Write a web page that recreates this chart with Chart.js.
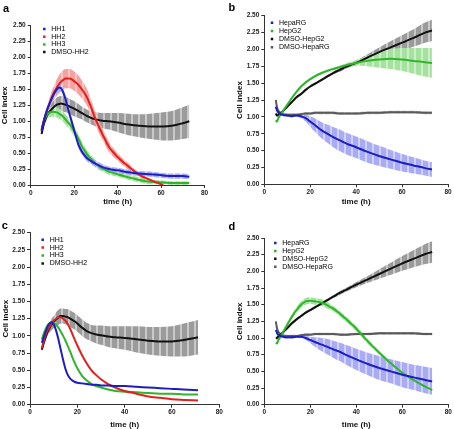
<!DOCTYPE html>
<html><head><meta charset="utf-8">
<script src="https://cdn.jsdelivr.net/npm/chart.js@4.4.1/dist/chart.umd.min.js"></script>
<style>
html,body{margin:0;padding:0;background:#fff}
body{width:454px;height:429px;position:relative;overflow:hidden;font-family:'Liberation Sans',Arial,sans-serif}
canvas{position:absolute}
.lab{position:absolute;font-weight:bold;font-size:11px;line-height:11px;color:#000}
</style></head><body>
<canvas id="ca" width="227" height="214" style="left:0;top:0"></canvas>
<canvas id="cb" width="227" height="214" style="left:227px;top:0"></canvas>
<canvas id="cc" width="227" height="215" style="left:0;top:214px"></canvas>
<canvas id="cd" width="227" height="215" style="left:227px;top:214px"></canvas>
<div class="lab" style="left:3px;top:2.7px">a</div>
<div class="lab" style="left:228.5px;top:2.4px">b</div>
<div class="lab" style="left:1.7px;top:219.7px">c</div>
<div class="lab" style="left:228.5px;top:221.4px">d</div>
<script>
// ---------- data ----------
const xTicks = [0, 20, 40, 60, 80];
const yTicks = [0, 0.25, 0.5, 0.75, 1, 1.25, 1.5, 1.75, 2, 2.25, 2.5];

// panel a
const timeA   = [5,6,7,8,10,12,13,14,15,16,17,18,20,22,24,26,28,30,33,36,40,45,50,55,61,65,70,73];
const hh1A    = [0.85,1.00,1.12,1.22,1.38,1.50,1.53,1.52,1.45,1.35,1.22,1.10,0.86,0.63,0.50,0.42,0.37,0.33,0.28,0.25,0.23,0.20,0.18,0.17,0.15,0.14,0.14,0.13];
const hh1ASd  = [0.03,0.04,0.05,0.05,0.06,0.06,0.06,0.06,0.06,0.06,0.06,0.06,0.05,0.05,0.05,0.05,0.05,0.05,0.05,0.04,0.04,0.04,0.04,0.04,0.04,0.04,0.04,0.04];
const hh2A    = [0.85,1.00,1.12,1.22,1.40,1.53,1.58,1.62,1.65,1.67,1.67,1.67,1.63,1.57,1.48,1.37,1.20,1.02,0.80,0.60,0.44,0.29,0.16,0.08,0.00,null,null,null];
const hh2ASd  = [0.03,0.05,0.06,0.08,0.10,0.13,0.14,0.15,0.15,0.15,0.15,0.15,0.15,0.15,0.14,0.13,0.12,0.10,0.09,0.08,0.06,0.05,0.03,0.02,0.01,null,null,null];
const hh3A    = [0.88,1.00,1.07,1.12,1.15,1.14,1.12,1.10,1.07,1.03,0.99,0.95,0.85,0.72,0.58,0.48,0.40,0.33,0.26,0.21,0.17,0.12,0.08,0.05,0.04,0.03,0.03,0.03];
const hh3ASd  = [0.03,0.05,0.06,0.07,0.08,0.08,0.08,0.08,0.08,0.08,0.08,0.08,0.08,0.07,0.07,0.06,0.06,0.06,0.05,0.05,0.04,0.04,0.04,0.04,0.03,0.03,0.03,0.03];
const dmsoA   = [0.80,0.95,1.05,1.12,1.20,1.26,1.27,1.28,1.27,1.26,1.25,1.23,1.20,1.16,1.12,1.08,1.05,1.03,1.01,1.00,0.98,0.95,0.93,0.92,0.92,0.93,0.97,1.00];
const dmsoASd = [0.03,0.04,0.05,0.06,0.10,0.11,0.12,0.12,0.12,0.12,0.12,0.12,0.12,0.11,0.10,0.10,0.10,0.11,0.12,0.13,0.15,0.17,0.18,0.20,0.22,0.23,0.25,0.26];

// panel c
const timeC   = [5,6,7,8,9,10,11,12,13,14,15,16,17,18,19,20,22,24,26,28,30,33,36,40,45,50,55,60,65,71];
const hh1C    = [0.90,1.00,1.10,1.17,1.20,1.17,1.08,0.95,0.80,0.65,0.52,0.43,0.38,0.35,0.33,0.32,0.31,0.30,0.29,0.29,0.28,0.28,0.27,0.27,0.26,0.25,0.24,0.23,0.22,0.21];
const hh2C    = [0.82,0.95,1.05,1.12,1.17,1.22,1.25,1.27,1.27,1.25,1.22,1.17,1.10,1.02,0.94,0.86,0.72,0.60,0.50,0.43,0.37,0.30,0.25,0.20,0.16,0.12,0.10,0.08,0.07,0.06];
const hh3C    = [0.95,1.05,1.13,1.18,1.20,1.19,1.16,1.12,1.06,1.00,0.93,0.85,0.77,0.68,0.60,0.53,0.42,0.35,0.30,0.27,0.25,0.22,0.20,0.19,0.18,0.17,0.16,0.16,0.15,0.15];
const dmsoC   = [0.80,0.92,1.02,1.10,1.16,1.20,1.24,1.27,1.29,1.29,1.28,1.27,1.25,1.23,1.21,1.18,1.12,1.07,1.04,1.02,1.01,0.99,0.98,0.97,0.95,0.93,0.92,0.92,0.94,0.98];
const dmsoCSd = [0.03,0.04,0.05,0.06,0.08,0.09,0.10,0.11,0.11,0.11,0.11,0.12,0.12,0.12,0.12,0.12,0.12,0.12,0.12,0.13,0.14,0.15,0.16,0.17,0.19,0.20,0.21,0.22,0.24,0.25];

// panel b
const timeB    = [5,5.5,6,7,8,10,12,14,16,18,20,22,25,28,30,33,36,40,45,50,55,60,65,70,73];
const hepargB  = [1.15,1.10,1.07,1.04,1.03,1.02,1.01,1.02,1.01,0.98,0.93,0.88,0.80,0.74,0.70,0.65,0.60,0.55,0.48,0.42,0.37,0.32,0.28,0.24,0.22];
const hepargBSd= [0.04,0.03,0.02,0.02,0.02,0.02,0.02,0.02,0.03,0.05,0.08,0.10,0.12,0.14,0.15,0.16,0.16,0.16,0.16,0.15,0.14,0.13,0.12,0.11,0.11];
const hepg2B   = [0.95,0.93,0.97,1.03,1.08,1.18,1.28,1.37,1.45,1.51,1.56,1.60,1.65,1.69,1.71,1.74,1.77,1.80,1.83,1.85,1.86,1.85,1.83,1.81,1.80];
const hepg2BSd = [0.02,0.02,0.02,0.02,0.02,0.02,0.02,0.02,0.02,0.02,0.02,0.02,0.02,0.02,0.02,0.02,0.03,0.04,0.08,0.12,0.15,0.17,0.19,0.21,0.22];
const dmsoG2B  = [1.05,1.02,1.03,1.05,1.08,1.15,1.22,1.29,1.34,1.40,1.45,1.49,1.55,1.61,1.65,1.70,1.75,1.80,1.88,1.96,2.03,2.10,2.17,2.25,2.28];
const dmsoG2BSd= [0.03,0.02,0.02,0.02,0.02,0.02,0.02,0.02,0.02,0.02,0.02,0.02,0.02,0.02,0.02,0.03,0.03,0.04,0.05,0.07,0.09,0.11,0.13,0.15,0.16];
const dmsoRGB  = [1.25,1.15,1.10,1.06,1.04,1.03,1.03,1.03,1.04,1.05,1.05,1.06,1.06,1.06,1.06,1.05,1.05,1.05,1.06,1.06,1.07,1.07,1.07,1.06,1.06];
const dmsoRGBSd= [0.04,0.03,0.02,0.02,0.02,0.02,0.02,0.02,0.02,0.02,0.02,0.02,0.02,0.02,0.02,0.02,0.02,0.02,0.02,0.02,0.02,0.02,0.02,0.02,0.02];

// panel d
const timeD    = [5,5.5,6,7,8,10,12,14,16,18,20,22,25,28,30,33,36,40,45,50,55,60,65,70,73];
const hepargD  = [1.12,1.08,1.05,1.03,1.02,1.01,1.01,1.02,1.02,1.00,0.97,0.94,0.90,0.86,0.83,0.79,0.74,0.68,0.61,0.55,0.50,0.45,0.41,0.37,0.35];
const hepargDSd= [0.04,0.03,0.02,0.02,0.02,0.02,0.02,0.02,0.02,0.03,0.05,0.07,0.10,0.12,0.13,0.14,0.15,0.16,0.17,0.18,0.18,0.19,0.19,0.20,0.20];
const hepg2D   = [0.93,0.92,0.96,1.02,1.08,1.20,1.32,1.42,1.50,1.55,1.56,1.55,1.53,1.48,1.44,1.36,1.27,1.14,0.95,0.78,0.62,0.48,0.37,0.27,0.22];
const hepg2DSd = [0.02,0.02,0.02,0.03,0.03,0.04,0.04,0.05,0.05,0.05,0.05,0.05,0.05,0.05,0.04,0.04,0.04,0.04,0.04,0.03,0.03,0.03,0.03,0.03,0.03];
const dmsoG2D  = [1.00,1.00,1.02,1.05,1.08,1.15,1.22,1.28,1.33,1.38,1.42,1.46,1.52,1.58,1.62,1.68,1.73,1.80,1.88,1.96,2.04,2.12,2.19,2.26,2.29];
const dmsoG2DSd= [0.03,0.02,0.02,0.02,0.02,0.02,0.02,0.02,0.02,0.02,0.02,0.02,0.02,0.02,0.02,0.03,0.03,0.04,0.05,0.07,0.09,0.11,0.13,0.15,0.16];
const dmsoRGD  = [1.25,1.15,1.10,1.06,1.04,1.03,1.03,1.03,1.04,1.05,1.05,1.06,1.06,1.06,1.06,1.05,1.05,1.06,1.06,1.07,1.07,1.07,1.07,1.06,1.06];
const dmsoRGDSd= [0.04,0.03,0.02,0.02,0.02,0.02,0.02,0.02,0.02,0.02,0.02,0.02,0.02,0.02,0.02,0.02,0.02,0.02,0.02,0.02,0.02,0.02,0.02,0.02,0.02];

const namesAC = ['HH1', 'HH2', 'HH3', 'DMSO-HH2'];
const namesBD = ['HepaRG', 'HepG2', 'DMSO-HepG2', 'DMSO-HepaRG'];

// ---------- styling ----------
const C = {
  blue:  {line:'#1d1dc4', band:'#a9acf2', light:'#cfd1f8'},
  red:   {line:'#e3201c', band:'#f4a3a1', light:'#f8c6c5'},
  green: {line:'#2fb52c', band:'#a6e29f', light:'#cdefc8'},
  black: {line:'#111111', band:'#9b9b9b', light:'#c9c9c9'},
  gray:  {line:'#5a5a5a', band:'#b5b5b5', light:'#d6d6d6'}
};
function stripe(col, light){
  const c = document.createElement('canvas'); c.width = 7; c.height = 4;
  const x = c.getContext('2d');
  x.fillStyle = col; x.fillRect(0,0,5,4);
  x.fillStyle = light; x.fillRect(5,0,2,4);
  return x.createPattern(c, 'repeat');
}
const tickFont = {family:"'Liberation Sans', Arial, sans-serif", size:6.5, weight:'bold'};
const titleFont = {family:"'Liberation Sans', Arial, sans-serif", size:8, weight:'bold', lineHeight:1};

const legendShift = {
  id:'legendShift',
  afterLayout(chart){
    const o = chart.options.plugins.legendShift;
    if (chart.legend && o){
      chart.legend.left = chart.chartArea.left + o.dx;
      chart.legend.top = chart.chartArea.top + o.dy;
    }
  }
};

function panel(id, W, H, area, labels, series, lg, ytp, xtp){
  const datasets = [];
  series.forEach(s => {
    if (s.sd){
      const up = s.mean.map((v,i)=> v===null ? null : v + s.sd[i]);
      const lo = s.mean.map((v,i)=> v===null ? null : Math.max(0, v - s.sd[i]));
      datasets.push({label:'_u', data:up, fill:'+1', backgroundColor:stripe(s.c.band, s.c.light),
        borderWidth:0, pointRadius:0, order:2, cubicInterpolationMode:'monotone', spanGaps:false});
      datasets.push({label:'_l', data:lo, fill:false, borderWidth:0, pointRadius:0, order:2,
        cubicInterpolationMode:'monotone', backgroundColor:'transparent'});
    }
  });
  series.forEach(s => {
    datasets.push({label:s.name, data:s.mean, borderColor:s.c.line, backgroundColor:s.c.line,
      borderWidth:2, pointRadius:0, fill:false, order:1, cubicInterpolationMode:'monotone'});
  });
  return new Chart(document.getElementById(id), {
    type:'line',
    data:{labels, datasets},
    options:{
      responsive:false, animation:false, devicePixelRatio:1,
      layout:{padding:{left:0, top:area.t, right:W-area.r, bottom:0}},
      plugins:{
        legend:{
          position:'chartArea', align:'start',
          labels:{
            font:{family:"'Liberation Sans', Arial, sans-serif", size:7},
            color:'#222', boxWidth:7, boxHeight:2.5, usePointStyle:true, padding:lg.p,
            generateLabels:()=> series.map(s=>({text:s.name, fillStyle:s.c.line, strokeStyle:s.c.line,
              lineWidth:0, pointStyle:'rect', hidden:false}))
          }
        },
        legendShift:{dx:lg.dx, dy:lg.dy},
        tooltip:{enabled:false}
      },
      scales:{
        x:{
          type:'linear', min:0, max:80,
          afterFit:(sc)=>{ sc.height = H - area.b; },
          afterBuildTicks:(sc)=>{ sc.ticks = xTicks.map(v=>({value:v})); },
          ticks:{font:tickFont, color:'#222', padding:1, callback:(v)=>String(v), maxRotation:0},
          grid:{drawOnChartArea:false, drawTicks:true, tickLength:3, color:'#333'},
          border:{color:'#333', width:1},
          title:{display:true, text:'time (h)', font:titleFont, color:'#111', padding:{top:0,bottom:xtp}}
        },
        y:{
          type:'linear', min:0, max:2.5,
          afterFit:(sc)=>{ sc.width = area.l; },
          afterBuildTicks:(sc)=>{ sc.ticks = yTicks.map(v=>({value:v})); },
          ticks:{font:tickFont, color:'#222', padding:2, callback:(v)=>Number(v).toFixed(2)},
          grid:{drawOnChartArea:false, drawTicks:true, tickLength:3, color:'#333'},
          border:{color:'#333', width:1},
          title:{display:true, text:'Cell index', font:titleFont, color:'#111', padding:{top:ytp,bottom:0}}
        }
      }
    },
    plugins:[legendShift]
  });
}

panel('ca', 227, 214, {l:30.7, t:25.7, r:204.5, b:185}, timeA, [
  {name:namesAC[0], mean:hh1A, sd:hh1ASd, c:C.blue},
  {name:namesAC[1], mean:hh2A, sd:hh2ASd, c:C.red},
  {name:namesAC[2], mean:hh3A, sd:hh3ASd, c:C.green},
  {name:namesAC[3], mean:dmsoA, sd:dmsoASd, c:C.black}
], {p:0.7, dx:9.4, dy:-0.9}, 1, 8.3);

panel('cb', 227, 214, {l:37.3, t:15.7, r:221, b:184.3}, timeB, [
  {name:namesBD[0], mean:hepargB, sd:hepargBSd, c:C.blue},
  {name:namesBD[1], mean:hepg2B, sd:hepg2BSd, c:C.green},
  {name:namesBD[2], mean:dmsoG2B, sd:dmsoG2BSd, c:C.black},
  {name:namesBD[3], mean:dmsoRGB, sd:dmsoRGBSd, c:C.gray}
], {p:1.2, dx:3, dy:2.3}, 9, 8.3);

panel('cc', 227, 215, {l:30, t:18.7, r:219.3, b:190.7}, timeC, [
  {name:namesAC[0], mean:hh1C, c:C.blue},
  {name:namesAC[1], mean:hh2C, c:C.red},
  {name:namesAC[2], mean:hh3C, c:C.green},
  {name:namesAC[3], mean:dmsoC, sd:dmsoCSd, c:C.black}
], {p:0.9, dx:8.3, dy:2.6}, 2, 0.3);

panel('cd', 227, 215, {l:37.3, t:24, r:221.3, b:190.7}, timeD, [
  {name:namesBD[0], mean:hepargD, sd:hepargDSd, c:C.blue},
  {name:namesBD[1], mean:hepg2D, sd:hepg2DSd, c:C.green},
  {name:namesBD[2], mean:dmsoG2D, sd:dmsoG2DSd, c:C.black},
  {name:namesBD[3], mean:dmsoRGD, sd:dmsoRGDSd, c:C.gray}
], {p:0.9, dx:6.6, dy:0.6}, 9, 0);
</script>
</body></html>
